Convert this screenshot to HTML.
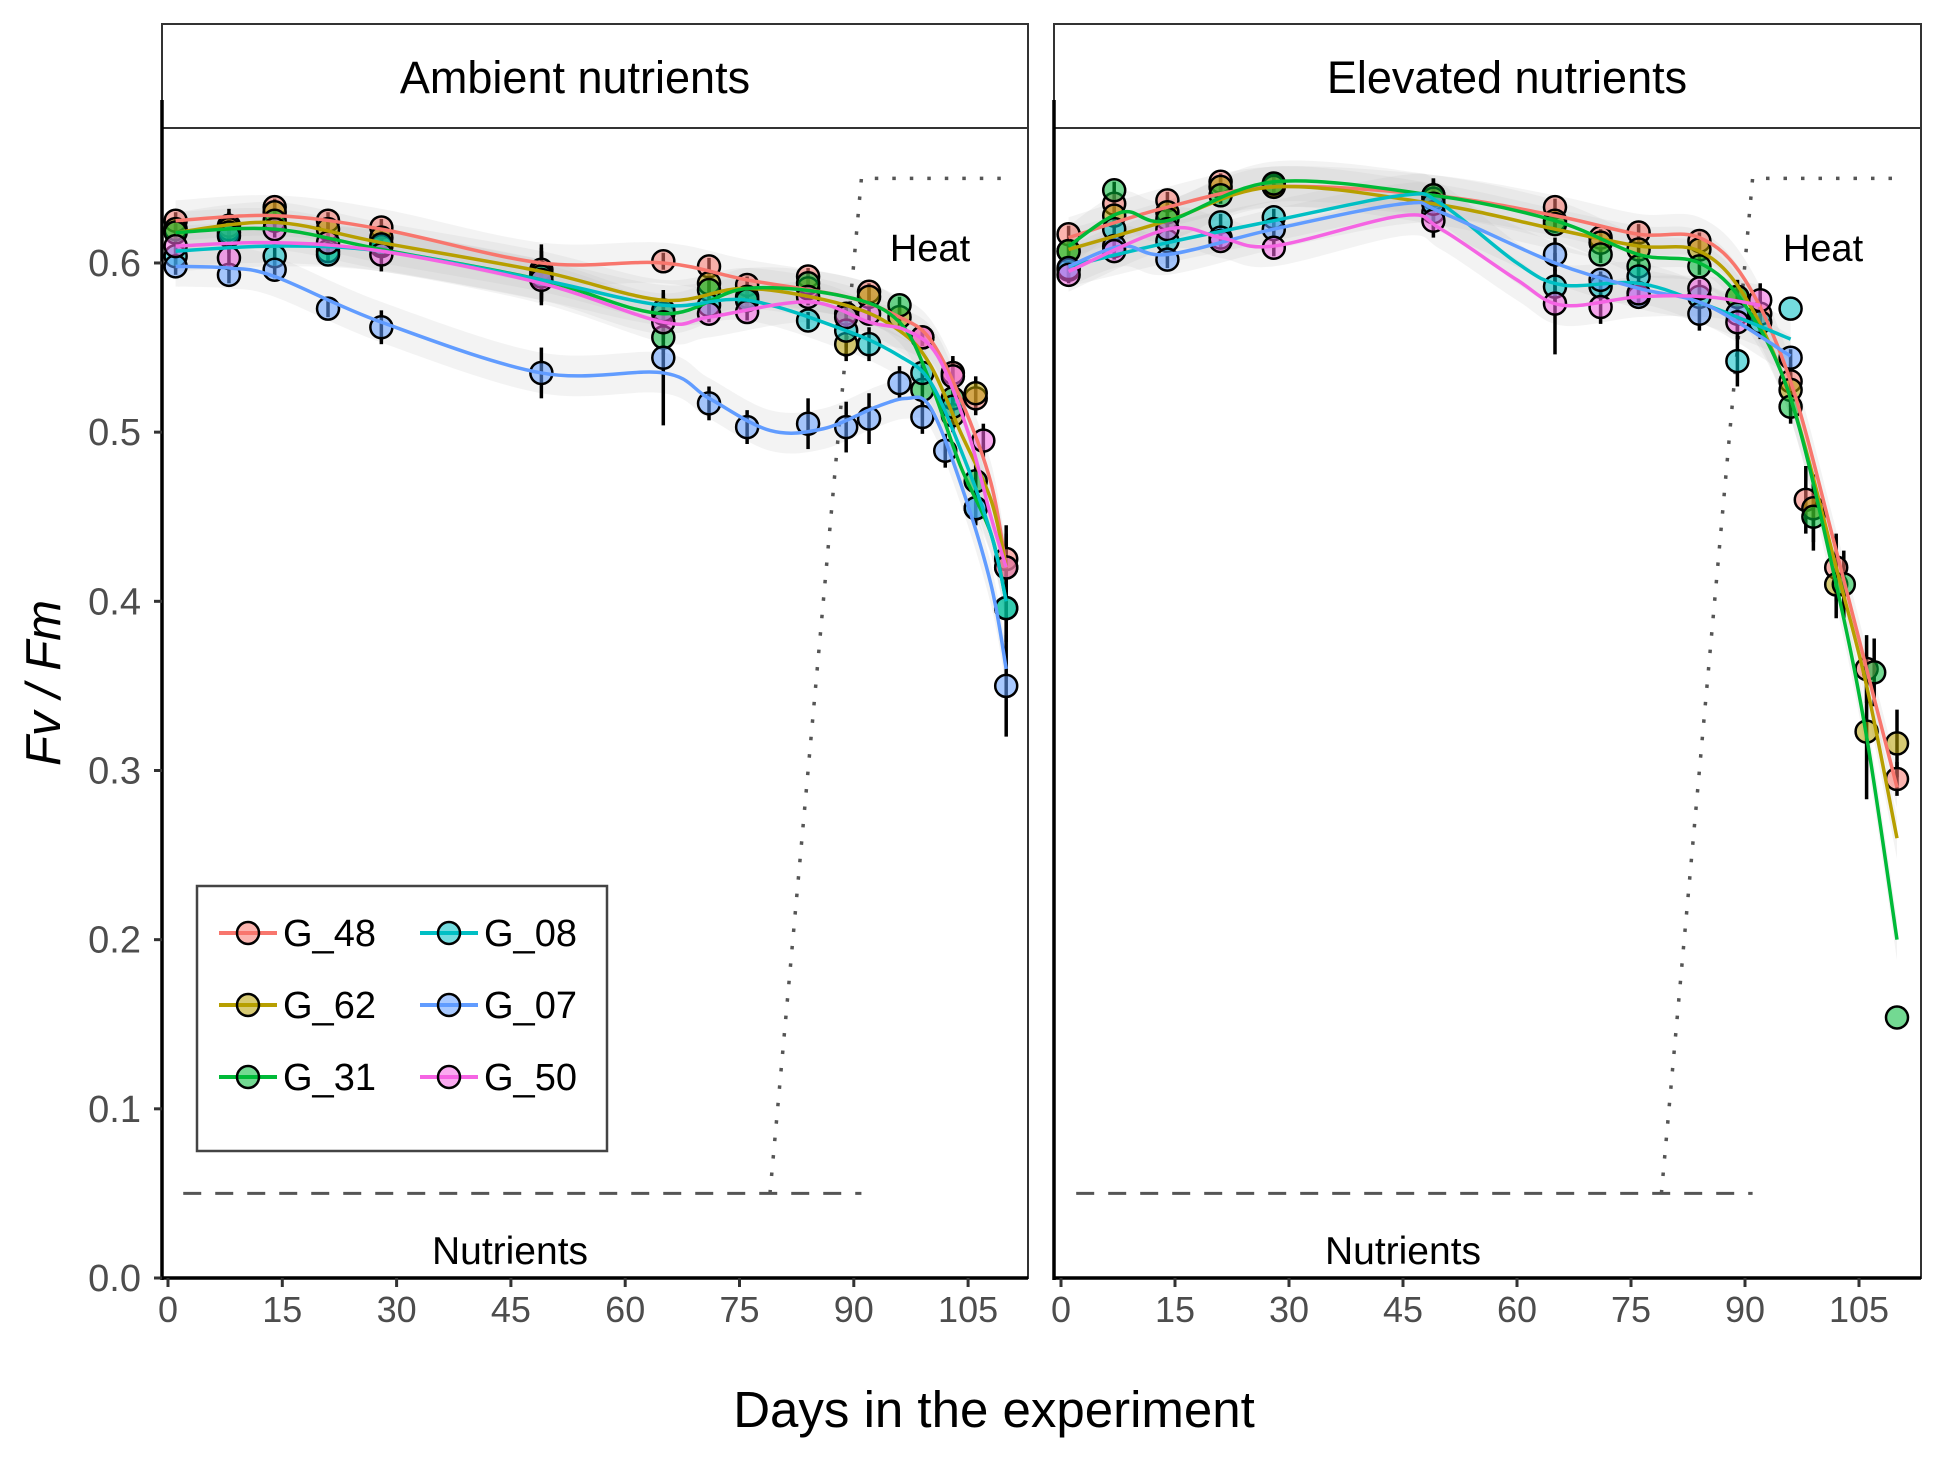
<!DOCTYPE html>
<html><head><meta charset="utf-8"><style>
body{margin:0;background:#fff}
svg{display:block}
text{font-family:"Liberation Sans",Arial,sans-serif}
</style></head><body>
<svg id="chart" width="1944" height="1461" viewBox="0 0 1944 1461" xmlns="http://www.w3.org/2000/svg">
<rect width="1944" height="1461" fill="#fff"/>
<g id="panelA"></g>
<g id="panelE"></g>
<text x="994" y="1427" font-size="51" text-anchor="middle">Days in the experiment</text>
<text transform="translate(60,683) rotate(-90)" font-size="49" font-style="italic" text-anchor="middle">Fv / Fm</text>
<g id="legend"></g>
</svg>
<script>
const series=["G_48","G_62","G_31","G_08","G_07","G_50"];
const colors=["#F8766D","#B79F00","#00BA38","#00BFC4","#619CFF","#F564E3"];
const xTicks=[0,15,30,45,60,75,90,105];
const yTicks=[0.0,0.1,0.2,0.3,0.4,0.5,0.6];
const yTickLabels=["0.0","0.1","0.2","0.3","0.4","0.5","0.6"];
// Ambient smooth lines [day,value]
const ambLine48=[[1,.625],[14,.628],[28,.620],[49,.600],[65,.600],[76,.590],[89,.580],[96,.568],[100,.555],[104,.52],[108,.47],[110,.42]];
const ambLine62=[[1,.618],[14,.624],[28,.612],[49,.595],[65,.578],[76,.585],[89,.575],[96,.56],[100,.54],[104,.50],[108,.46],[110,.42]];
const ambLine31=[[1,.618],[14,.620],[28,.608],[49,.590],[65,.570],[76,.585],[89,.580],[96,.565],[100,.53],[104,.48],[108,.44],[110,.40]];
const ambLine08=[[1,.607],[14,.610],[28,.607],[49,.590],[65,.575],[76,.578],[89,.56],[96,.545],[100,.53],[104,.49],[108,.44],[110,.40]];
const ambLine07=[[1,.598],[8,.597],[14,.592],[28,.565],[49,.535],[65,.535],[71,.52],[79,.501],[86,.502],[93,.515],[97,.52],[100,.515],[104,.47],[108,.41],[110,.36]];
const ambLine50=[[1,.61],[14,.612],[28,.607],[49,.588],[65,.565],[71,.568],[84,.577],[92,.565],[97,.56],[101,.545],[105,.50],[108,.45],[110,.42]];
// Ambient points [day,value,errHalf]
const ambPts48=[[1,.625,.005],[8,.622,.01],[14,.633,.005],[21,.625,.005],[28,.621,.005],[49,.596,.015],[65,.601,.005],[71,.598,.005],[76,.587,.005],[84,.592,.005],[92,.583,.005],[99,.556,.005],[103,.535,.01],[106,.52,.01],[110,.425,.02]];
const ambPts62=[[1,.62,.005],[8,.62,.01],[14,.63,.005],[21,.62,.005],[28,.615,.005],[49,.594,.015],[65,.57,.01],[71,.588,.005],[76,.58,.005],[84,.585,.005],[89,.552,.01],[92,.58,.005],[96,.568,.005],[103,.51,.01],[106,.523,.01],[110,.42,.02]];
const ambPts31=[[1,.618,.005],[8,.618,.01],[14,.625,.005],[21,.607,.005],[28,.61,.005],[49,.592,.015],[65,.556,.01],[71,.584,.005],[76,.578,.005],[84,.588,.005],[89,.57,.005],[96,.575,.005],[99,.525,.01],[103,.52,.01],[106,.471,.01],[110,.396,.02]];
const ambPts08=[[1,.604,.005],[8,.616,.01],[14,.604,.005],[21,.605,.005],[28,.611,.005],[49,.592,.015],[65,.572,.01],[71,.575,.005],[76,.578,.005],[84,.566,.005],[89,.56,.01],[92,.552,.01],[99,.535,.005],[103,.515,.01],[106,.455,.01],[110,.396,.02]];
const ambPts07=[[1,.598,.005],[8,.593,.005],[14,.596,.005],[21,.573,.005],[28,.562,.01],[49,.535,.015],[65,.544,.04],[71,.517,.01],[76,.503,.01],[84,.505,.015],[89,.503,.015],[92,.508,.015],[96,.529,.01],[99,.509,.01],[102,.489,.01],[106,.455,.01],[110,.35,.03]];
const ambPts50=[[1,.61,.005],[8,.603,.005],[14,.62,.005],[21,.612,.005],[28,.605,.01],[49,.59,.015],[65,.565,.01],[71,.57,.005],[76,.571,.005],[84,.58,.005],[89,.568,.005],[92,.57,.005],[99,.556,.005],[103,.533,.01],[107,.495,.01],[110,.42,.02]];
// Elevated smooth lines
const eleLine48=[[1,.615],[14,.633],[28,.645],[49,.64],[65,.628],[76,.617],[84,.615],[90,.59],[96,.53],[102,.43],[106,.36],[110,.29]];
const eleLine62=[[1,.608],[14,.625],[28,.645],[49,.635],[65,.62],[76,.61],[84,.607],[90,.58],[96,.52],[102,.42],[106,.35],[110,.26]];
const eleLine31=[[1,.61],[8,.63],[14,.625],[28,.648],[49,.64],[65,.625],[76,.605],[84,.60],[90,.575],[96,.52],[102,.41],[106,.32],[110,.20]];
const eleLine08=[[1,.598],[14,.612],[28,.625],[45,.64],[50,.635],[60,.60],[66,.587],[76,.588],[85,.575],[96,.555]];
const eleLine07=[[1,.598],[8,.61],[14,.605],[28,.62],[45,.635],[50,.63],[65,.60],[76,.585],[85,.575],[96,.545]];
const eleLine50=[[1,.595],[14,.62],[21,.615],[28,.61],[45,.628],[50,.62],[60,.59],[66,.575],[76,.58],[85,.58],[92,.575]];
// Elevated points
const elePts48=[[1,.617,.005],[7,.635,.005],[14,.637,.005],[21,.648,.005],[28,.646,.005],[49,.64,.01],[65,.633,.005],[71,.615,.005],[76,.618,.005],[84,.613,.005],[92,.57,.01],[96,.53,.01],[98,.46,.02],[102,.42,.02],[106,.36,.02],[110,.295,.01]];
const elePts62=[[1,.607,.005],[7,.628,.005],[14,.63,.005],[21,.645,.005],[28,.645,.005],[49,.638,.01],[65,.625,.005],[71,.612,.005],[76,.608,.005],[84,.608,.005],[89,.58,.01],[96,.525,.01],[99,.455,.02],[102,.41,.02],[106,.323,.04],[110,.316,.02]];
const elePts31=[[1,.607,.005],[7,.643,.005],[14,.626,.005],[21,.64,.005],[28,.647,.005],[49,.64,.01],[65,.623,.005],[71,.605,.005],[76,.598,.005],[84,.598,.005],[89,.58,.01],[96,.515,.01],[99,.45,.02],[103,.41,.02],[107,.358,.02],[110,.154,0]];
const elePts08=[[1,.596,.005],[7,.62,.005],[14,.613,.005],[21,.624,.005],[28,.627,.005],[49,.63,.01],[65,.586,.01],[71,.586,.005],[76,.592,.005],[84,.58,.005],[89,.542,.015],[92,.565,.01],[96,.573,0]];
const elePts07=[[1,.597,.005],[7,.61,.005],[14,.602,.005],[21,.615,.005],[28,.62,.005],[49,.635,.01],[65,.605,.01],[71,.59,.005],[76,.58,.005],[84,.57,.01],[89,.57,.01],[96,.544,.005]];
const elePts50=[[1,.593,.005],[7,.607,.005],[14,.62,.005],[21,.613,.005],[28,.609,.005],[49,.625,.01],[65,.576,.03],[71,.574,.01],[76,.582,.005],[84,.585,.005],[89,.565,.01],[92,.578,.01]];

const ambLines=[ambLine48,ambLine62,ambLine31,ambLine08,ambLine07,ambLine50];
const ambPts=[ambPts48,ambPts62,ambPts31,ambPts08,ambPts07,ambPts50];
const eleLines=[eleLine48,eleLine62,eleLine31,eleLine08,eleLine07,eleLine50];
const elePts=[elePts48,elePts62,elePts31,elePts08,elePts07,elePts50];
const nutrientEnd=91, heatStart=79, heatFull=91, heatEnd=110, nutrientLevel=0.05, heatLevel=0.65;

const NS="http://www.w3.org/2000/svg";
function mk(tag,attrs,parent){const e=document.createElementNS(NS,tag);for(const k in attrs)e.setAttribute(k,attrs[k]);parent.appendChild(e);return e;}
const Y0=1278;
const yScale=v=>Y0-v*1691.7;
function smoothPath(pts,xs){
  const p=pts.map(d=>[xs(d[0]),yScale(d[1])]);
  let s="M"+p[0][0]+","+p[0][1];
  for(let i=0;i<p.length-1;i++){
    const p0=p[i-1]||p[i],p1=p[i],p2=p[i+1],p3=p[i+2]||p2;
    const c1=[p1[0]+(p2[0]-p0[0])/6,p1[1]+(p2[1]-p0[1])/6];
    const c2=[p2[0]-(p3[0]-p1[0])/6,p2[1]-(p3[1]-p1[1])/6];
    s+=` C${c1[0]},${c1[1]} ${c2[0]},${c2[1]} ${p2[0]},${p2[1]}`;
  }
  return s;
}
function drawPanel(g,x0,x1,xs,title,titleX,heatX,nutX,lines,pts,name,yt){
  mk("rect",{x:x0,y:24,width:x1-x0,height:104,fill:"#fff",stroke:"#333","stroke-width":2,},g);
  const t=mk("text",{x:titleX,y:93,"font-size":45,"text-anchor":"middle",},g);t.textContent=title;
  mk("rect",{x:x0,y:128,width:x1-x0,height:Y0-128,fill:"none",stroke:"#333","stroke-width":2,},g);
  lines.forEach((ln,i)=>{
    const up=ln.map(d=>[d[0],d[1]+0.012]),dn=ln.map(d=>[d[0],d[1]-0.012]).reverse();
    const d1=smoothPath(up,xs),d2=smoothPath(dn,xs).replace("M","L");
    const r=mk("path",{d:d1+d2+"Z",fill:"#bdbdbd","fill-opacity":0.18},g);
    
    
  });
  mk("line",{x1:xs(2),x2:xs(nutrientEnd),y1:yScale(nutrientLevel),y2:yScale(nutrientLevel),stroke:"#555","stroke-width":3,"stroke-dasharray":"18,14",},g);
  mk("polyline",{points:`${xs(heatStart)},${yScale(nutrientLevel)} ${xs(heatFull)},${yScale(heatLevel)} ${xs(heatEnd)},${yScale(heatLevel)}`,fill:"none",stroke:"#555","stroke-width":3.5,"stroke-dasharray":"3.5,14",},g);
  pts.forEach((ps,i)=>{
    ps.forEach(p=>{
      if(p[2]>0){const e=mk("line",{x1:xs(p[0]),x2:xs(p[0]),y1:yScale(p[1]+p[2]),y2:yScale(p[1]-p[2]),stroke:"#000","stroke-width":3.5},g);
      
      }
    });
  });
  pts.forEach((ps,i)=>{
    ps.forEach(p=>{
      const c=mk("circle",{cx:xs(p[0]),cy:yScale(p[1]),r:11,fill:colors[i],"fill-opacity":0.55,stroke:"#000","stroke-width":2.5},g);
      
      
    });
  });
  lines.forEach((ln,i)=>{
    const l=mk("path",{d:smoothPath(ln,xs),fill:"none",stroke:colors[i],"stroke-width":3.5},g);
    
    
  });
  mk("line",{x1:x0,x2:x0,y1:100,y2:Y0+2,stroke:"#000","stroke-width":3.5,},g);
  mk("line",{x1:x0-1,x2:x1,y1:Y0,y2:Y0,stroke:"#000","stroke-width":3.5,},g);
  if(yt){
    yTicks.forEach((v,i)=>{
      const tk=mk("line",{x1:x0-8,x2:x0,y1:yScale(v),y2:yScale(v),stroke:"#333","stroke-width":3},g);
      
      
    });
  }
  xTicks.forEach(v=>{
    const tk=mk("line",{x1:xs(v),x2:xs(v),y1:Y0,y2:Y0+9,stroke:"#333","stroke-width":3},g);
    
    
    const tl=mk("text",{x:xs(v),y:Y0+44,"font-size":36,fill:"#4d4d4d","text-anchor":"middle"},g);
    
    
    tl.textContent=v;
  });
  const h=mk("text",{x:heatX,y:261,"font-size":38,"text-anchor":"middle",},g);h.textContent="Heat";
  const n=mk("text",{x:nutX,y:1264,"font-size":39,"text-anchor":"middle",},g);n.textContent="Nutrients";
}
const xsA=d=>168+d*7.62, xsE=d=>1061+d*7.6;
drawPanel(document.getElementById("panelA"),162,1028,xsA,"Ambient nutrients",575,930,510,ambLines,ambPts,"ambient",true);
drawPanel(document.getElementById("panelE"),1054,1921,xsE,"Elevated nutrients",1507,1823,1403,eleLines,elePts,"elevated",false);
const gA=document.getElementById("panelA");
yTicks.forEach((v,i)=>{
  const tl=mk("text",{x:141,y:yScale(v)+13,"font-size":38,fill:"#4d4d4d","text-anchor":"end"},gA);
  
  
  tl.textContent=yTickLabels[i];
});
const lg=document.getElementById("legend");
mk("rect",{x:197,y:886,width:410,height:265,fill:"#fff",stroke:"#444","stroke-width":2.5,},lg);
series.forEach((s,i)=>{
  const col=Math.floor(i/3),row=i%3;
  const lx=219+col*201, ly=933+row*72;
  const ge=mk("g",{},lg);
  
  
  mk("line",{x1:lx,x2:lx+58,y1:ly,y2:ly,stroke:colors[i],"stroke-width":4},ge);
  mk("circle",{cx:lx+29,cy:ly,r:11,fill:colors[i],"fill-opacity":0.55,stroke:"#000","stroke-width":2.5},ge);
  const t=mk("text",{x:lx+64,y:ly+13,"font-size":38},ge);t.textContent=s;
});
</script>
</body></html>
